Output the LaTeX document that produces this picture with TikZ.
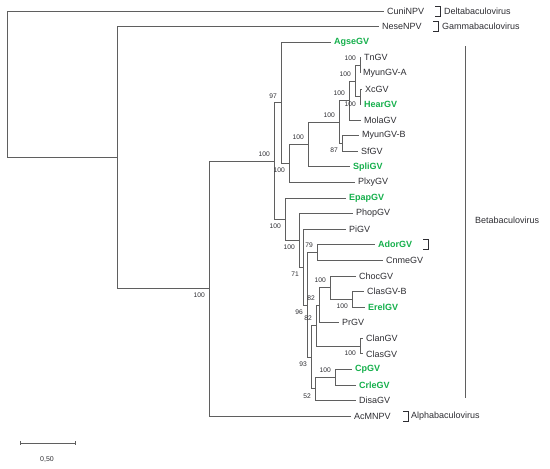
\documentclass[tikz,border=0pt]{standalone}
\usepackage{fontspec}
\setmainfont{Liberation Sans}
\definecolor{lin}{RGB}{95,95,95}
\definecolor{grn}{RGB}{20,175,75}
\definecolor{txt}{RGB}{45,45,50}
\begin{document}
\begin{tikzpicture}[x=1pt,y=-1pt,
  br/.style={draw=lin, line width=0.8pt},
  leaf/.style={anchor=west, inner xsep=3pt, inner ysep=1pt, font=\fontsize{9}{10}\selectfont, text=txt},
  gleaf/.style={leaf, text=grn, font=\fontsize{9}{10}\selectfont\bfseries},
  bs/.style={inner sep=0pt, anchor=east, font=\fontsize{6.7}{8}\selectfont, text=txt},
  bsu/.style={bs, xshift=-4pt, yshift=7pt},
  bsd/.style={bs, xshift=-4pt, yshift=-7pt},
  clade/.style={anchor=west, inner sep=0pt, font=\fontsize{9}{10}\selectfont, text=txt},
  brk/.style={draw=txt, line width=0.8pt}
]
\path[use as bounding box] (0,0) rectangle (550,469);

% leaves
\node[leaf]  (cuni)  at (384,11.0)  {CuniNPV};
\node[leaf]  (nese)  at (379,26.6)  {NeseNPV};
\node[gleaf] (agse)  at (331,42.2)  {AgseGV};
\node[leaf]  (tn)    at (361,57.7)  {TnGV};
\node[leaf]  (myuna) at (360,73.3)  {MyunGV-A};
\node[leaf]  (xc)    at (362,88.9)  {XcGV};
\node[gleaf] (hear)  at (361,104.5) {HearGV};
\node[leaf]  (mola)  at (361,120.1) {MolaGV};
\node[leaf]  (myunb) at (359,135.6) {MyunGV-B};
\node[leaf]  (sf)    at (358,151.2) {SfGV};
\node[gleaf] (spli)  at (350,166.8) {SpliGV};
\node[leaf]  (plxy)  at (355,182.4) {PlxyGV};
\node[gleaf] (epap)  at (346,198.0) {EpapGV};
\node[leaf]  (phop)  at (353,213.5) {PhopGV};
\node[leaf]  (pi)    at (346,229.1) {PiGV};
\node[gleaf] (ador)  at (375,244.7) {AdorGV};
\node[leaf]  (cnme)  at (383,260.3) {CnmeGV};
\node[leaf]  (choc)  at (356,275.9) {ChocGV};
\node[leaf]  (clasb) at (364,291.4) {ClasGV-B};
\node[gleaf] (erel)  at (365,307.0) {ErelGV};
\node[leaf]  (pr)    at (339,322.6) {PrGV};
\node[leaf]  (clan)  at (363,338.2) {ClanGV};
\node[leaf]  (clas)  at (363,353.8) {ClasGV};
\node[gleaf] (cp)    at (352,369.3) {CpGV};
\node[gleaf] (crle)  at (356,384.9) {CrleGV};
\node[leaf]  (disa)  at (356,400.5) {DisaGV};
\node[leaf]  (acm)   at (351,416.1) {AcMNPV};

% internal nodes
\coordinate (root) at (7,84.3);
\coordinate (A) at (117,157.6);
\coordinate (B) at (209,288.5);
\coordinate (C) at (274,161.0);
\coordinate (D) at (281,102.8);
\coordinate (H) at (289,163.4);
\coordinate (I) at (308,144.4);
\coordinate (J) at (339,122.0);
\coordinate (K) at (349,100.6);
\coordinate (M) at (355,81.1);
\coordinate (N) at (360,65.5);
\coordinate (O) at (360,96.7);
\coordinate (L) at (342,143.4);
\coordinate (G) at (285,219.1);
\coordinate (P) at (299,240.3);
\coordinate (Q) at (303,267.0);
\coordinate (R) at (307,304.9);
\coordinate (AA) at (317,252.5);
\coordinate (Z) at (311,357.2);
\coordinate (V) at (316,325.6);
\coordinate (W) at (319,305.1);
\coordinate (S) at (330,287.6);
\coordinate (T) at (352,299.2);
\coordinate (U) at (360,346.0);
\coordinate (Y) at (315,388.8);
\coordinate (X) at (335,377.1);

% branches
\draw[br] (root) |- (cuni.west);  \draw[br] (root) |- (A);
\draw[br] (A) |- (nese.west);     \draw[br] (A) |- (B);
\draw[br] (B) |- (C);             \draw[br] (B) |- (acm.west);
\draw[br] (C) |- (D);             \draw[br] (C) |- (G);
\draw[br] (D) |- (agse.west);     \draw[br] (D) |- (H);
\draw[br] (H) |- (I);             \draw[br] (H) |- (plxy.west);
\draw[br] (I) |- (J);             \draw[br] (I) |- (spli.west);
\draw[br] (J) |- (K);             \draw[br] (J) |- (L);
\draw[br] (K) |- (M);             \draw[br] (K) |- (mola.west);
\draw[br] (M) |- (N);             \draw[br] (M) |- (O);
\draw[br] (N) |- (tn.west);       \draw[br] (N) |- (myuna.west);
\draw[br] (O) |- (xc.west);       \draw[br] (O) |- (hear.west);
\draw[br] (L) |- (myunb.west);    \draw[br] (L) |- (sf.west);
\draw[br] (G) |- (epap.west);     \draw[br] (G) |- (P);
\draw[br] (P) |- (phop.west);     \draw[br] (P) |- (Q);
\draw[br] (Q) |- (pi.west);       \draw[br] (Q) |- (R);
\draw[br] (R) |- (AA);            \draw[br] (R) |- (Z);
\draw[br] (AA) |- (ador.west);    \draw[br] (AA) |- (cnme.west);
\draw[br] (Z) |- (V);             \draw[br] (Z) |- (Y);
\draw[br] (V) |- (W);             \draw[br] (V) |- (U);
\draw[br] (W) |- (S);             \draw[br] (W) |- (pr.west);
\draw[br] (S) |- (choc.west);     \draw[br] (S) |- (T);
\draw[br] (T) |- (clasb.west);    \draw[br] (T) |- (erel.west);
\draw[br] (U) |- (clan.west);     \draw[br] (U) |- (clas.west);
\draw[br] (Y) |- (X);             \draw[br] (Y) |- (disa.west);
\draw[br] (X) |- (cp.west);       \draw[br] (X) |- (crle.west);

% bootstrap values
\node[bsd] (bB) at (B) {100};
\node[bsu] (bC) at (C) {100};
\node[bsu] (bD) at (D) {97};
\node[bsd] (bH) at (H) {100};
\node[bsu] (bI) at (I) {100};
\node[bsu] (bJ) at (J) {100};
\node[bsu] (bK) at (K) {100};
\node[bsu] (bM) at (M) {100};
\node[bsu] (bN) at (N) {100};
\node[bsd] (bO) at (O) {100};
\node[bsd] (bL) at (L) {87};
\node[bsd] (bG) at (G) {100};
\node[bsd] (bP) at (P) {100};
\node[bsd] (bQ) at (Q) {71};
\node[bsu] (bAA) at (AA) {79};
\node[bsu] (bS) at (S) {100};
\node[bsd] (bT) at (T) {100};
\node[bsu] (bW) at (W) {82};
\node[bsd] (bR) at (R) {96};
\node[bsu] (bV) at (V) {82};
\node[bsd] (bU) at (U) {100};
\node[bsd] (bZ) at (Z) {93};
\node[bsu] (bX) at (X) {100};
\node[bsd] (bY) at (Y) {52};

% clade labels
\draw[brk] (435,6) -- (440,6) -- (440,16) -- (435,16);
\node[clade] (delta) at (444,11) {Deltabaculovirus};
\draw[brk] (433,21.6) -- (438,21.6) -- (438,31.6) -- (433,31.6);
\node[clade] (gamma) at (442,26.6) {Gammabaculovirus};
\draw[brk] (423,239.7) -- (428,239.7) -- (428,249.7) -- (423,249.7);
\draw[br] (465,46) -- (465,398);
\node[clade] (beta) at (475,220) {Betabaculovirus};
\draw[brk] (403,411.1) -- (408,411.1) -- (408,421.1) -- (403,421.1);
\node[clade] (alpha) at (411,416.1) {Alphabaculovirus};

% scale bar
\coordinate (s1) at (20,443);
\coordinate (s2) at (75,443);
\draw[br] (s1) -- (s2);
\draw[br] ([yshift=2pt]s1) -- ([yshift=-2pt]s1);
\draw[br] ([yshift=2pt]s2) -- ([yshift=-2pt]s2);
\node[inner sep=0pt, font=\fontsize{7}{8}\selectfont, text=txt] (scl) at (47,459) {0,50};
\end{tikzpicture}
\end{document}
